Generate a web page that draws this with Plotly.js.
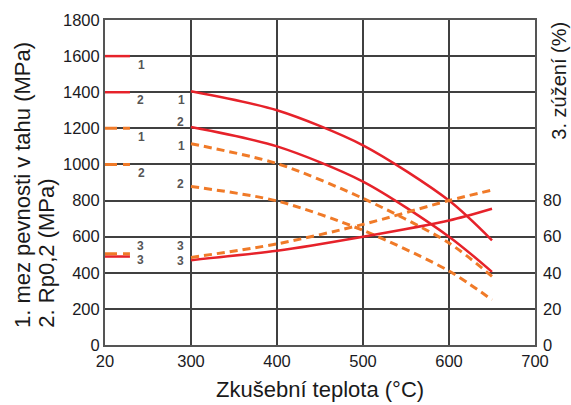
<!DOCTYPE html>
<html>
<head>
<meta charset="utf-8">
<script src="https://cdn.plot.ly/plotly-3.0.1.min.js"></script>
<style>html,body{margin:0;padding:0;background:#fff}#chart{width:571px;height:405px}</style>
</head>
<body>
<div id="chart"></div>
<script>
// Temperatures (°C) of the curves
const temps = [300, 400, 500, 600, 650];
// 1. tensile strength (MPa), 2. Rp0,2 (MPa), 3. reduction of area (%)
const redTensile = [1405, 1300, 1106, 800, 580];
const redYield = [1207, 1100, 905, 600, 405];
const orangeTensile = [1115, 1005, 812, 565, 380];
const orangeYield = [878, 798, 635, 410, 250];
const redReduction = [47, 52.2, 60, 69, 75.5];
const orangeReduction = [48.5, 56, 66.8, 80, 85.8];

// Room-temperature (20 °C) values, drawn as short stubs at the broken-axis start
const stubX = [200, 229];
const redTensile20 = 1600;
const redYield20 = 1400;
const orangeTensile20 = 1200;
const orangeYield20 = 1000;
const redReduction20 = 49;
const orangeReduction20 = 50.5;

// X tick labels (axis is broken: first tick shows 20 °C)
const xTickVals = [200, 300, 400, 500, 600, 700];
const xTickText = ['20', '300', '400', '500', '600', '700'];
const yTickVals = [0, 200, 400, 600, 800, 1000, 1200, 1400, 1600, 1800];
const y2TickVals = [0, 20, 40, 60, 80];

const RED = '#e6222a';
const ORANGE = '#f07a28';
const DASH = '8px,5px';

function line(x, y, color, dash, axis, width) {
  return {
    x: x, y: y, type: 'scatter', mode: 'lines', yaxis: axis || 'y',
    line: {color: color, width: width || 2.5, dash: dash || 'solid', shape: 'spline', smoothing: 0.8},
    hoverinfo: 'skip', showlegend: false
  };
}

const traces = [
  line(temps, redTensile, RED),
  line(temps, redYield, RED),
  line(temps, orangeTensile, ORANGE, DASH, 'y', 3),
  line(temps, orangeYield, ORANGE, DASH, 'y', 3),
  line(temps, redReduction, RED, 'solid', 'y2'),
  line(temps, orangeReduction, ORANGE, DASH, 'y2', 3),
  line(stubX, [redTensile20, redTensile20], RED, 'solid', 'y', 2.5),
  line(stubX, [redYield20, redYield20], RED, 'solid', 'y', 2.5),
  line(stubX, [orangeTensile20, orangeTensile20], ORANGE, '12px,6px', 'y', 3),
  line(stubX, [orangeYield20, orangeYield20], ORANGE, '12px,6px', 'y', 3),
  line(stubX, [redReduction20, redReduction20], RED, 'solid', 'y2', 2.5),
  line(stubX, [orangeReduction20, orangeReduction20], ORANGE, '12px,6px', 'y2', 3)
];

const numFont = {family: 'Arial, Liberation Sans, sans-serif', size: 12, color: '#555555'};
function num(t, x, y) {
  return {text: '<b>' + t + '</b>', x: x, y: y, xref: 'x', yref: 'y', showarrow: false, font: numFont};
}

const axisFont = {family: 'Arial, Liberation Sans, sans-serif', size: 16.5, color: '#1a1a22'};
const titleFont = {family: 'Arial, Liberation Sans, sans-serif', size: 22, color: '#1a1a1a'};
const rightTitleFont = {family: 'Arial, Liberation Sans, sans-serif', size: 20, color: '#1a1a1a'};

const layout = {
  width: 571, height: 405,
  margin: {l: 105, r: 36, t: 20, b: 60},
  paper_bgcolor: '#ffffff', plot_bgcolor: '#ffffff',
  xaxis: {
    range: [200, 700], tickvals: xTickVals, ticktext: xTickText,
    showgrid: true, gridcolor: '#404040', gridwidth: 2,
    showline: true, linecolor: '#555555', linewidth: 2, mirror: true,
    ticks: '', tickfont: axisFont, zeroline: false
  },
  yaxis: {
    range: [0, 1800], tickvals: yTickVals,
    showgrid: true, gridcolor: '#404040', gridwidth: 2,
    showline: true, linecolor: '#555555', linewidth: 2, mirror: true,
    ticks: '', tickfont: axisFont, zeroline: false, ticklen: 0
  },
  yaxis2: {
    overlaying: 'y', side: 'right', range: [0, 180], tickvals: y2TickVals,
    showgrid: false, zeroline: false, showline: false, ticks: '', tickfont: axisFont,
    ticklabelstandoff: 7
  },
  annotations: [
    num('1', 242, 1550), num('2', 241, 1356), num('1', 243, 1152), num('2', 242, 952),
    num('3', 241, 548), num('3', 241, 470),
    num('1', 289, 1356), num('2', 288, 1235), num('1', 289, 1102), num('2', 288, 889),
    num('3', 288, 548), num('3', 288, 466),
    {text: 'Zkušební teplota (°C)', xref: 'paper', yref: 'paper', x: 0.5, y: -0.138,
     xanchor: 'center', yanchor: 'middle', showarrow: false, font: titleFont},
    {text: '1. mez pevnosti v tahu (MPa)', xref: 'paper', yref: 'paper', x: -0.193, y: 0.046,
     xanchor: 'center', yanchor: 'bottom', textangle: -90, showarrow: false, font: titleFont},
    {text: '2. Rp0,2 (MPa)', xref: 'paper', yref: 'paper', x: -0.137, y: 0.046,
     xanchor: 'center', yanchor: 'bottom', textangle: -90, showarrow: false, font: titleFont},
    {text: '3. zúžení (%)', xref: 'paper', yref: 'paper', x: 1.055, y: 1.0,
     xanchor: 'center', yanchor: 'top', textangle: -90, showarrow: false, font: rightTitleFont}
  ]
};

Plotly.newPlot('chart', traces, layout, {staticPlot: true, displayModeBar: false});
</script>
</body>
</html>
